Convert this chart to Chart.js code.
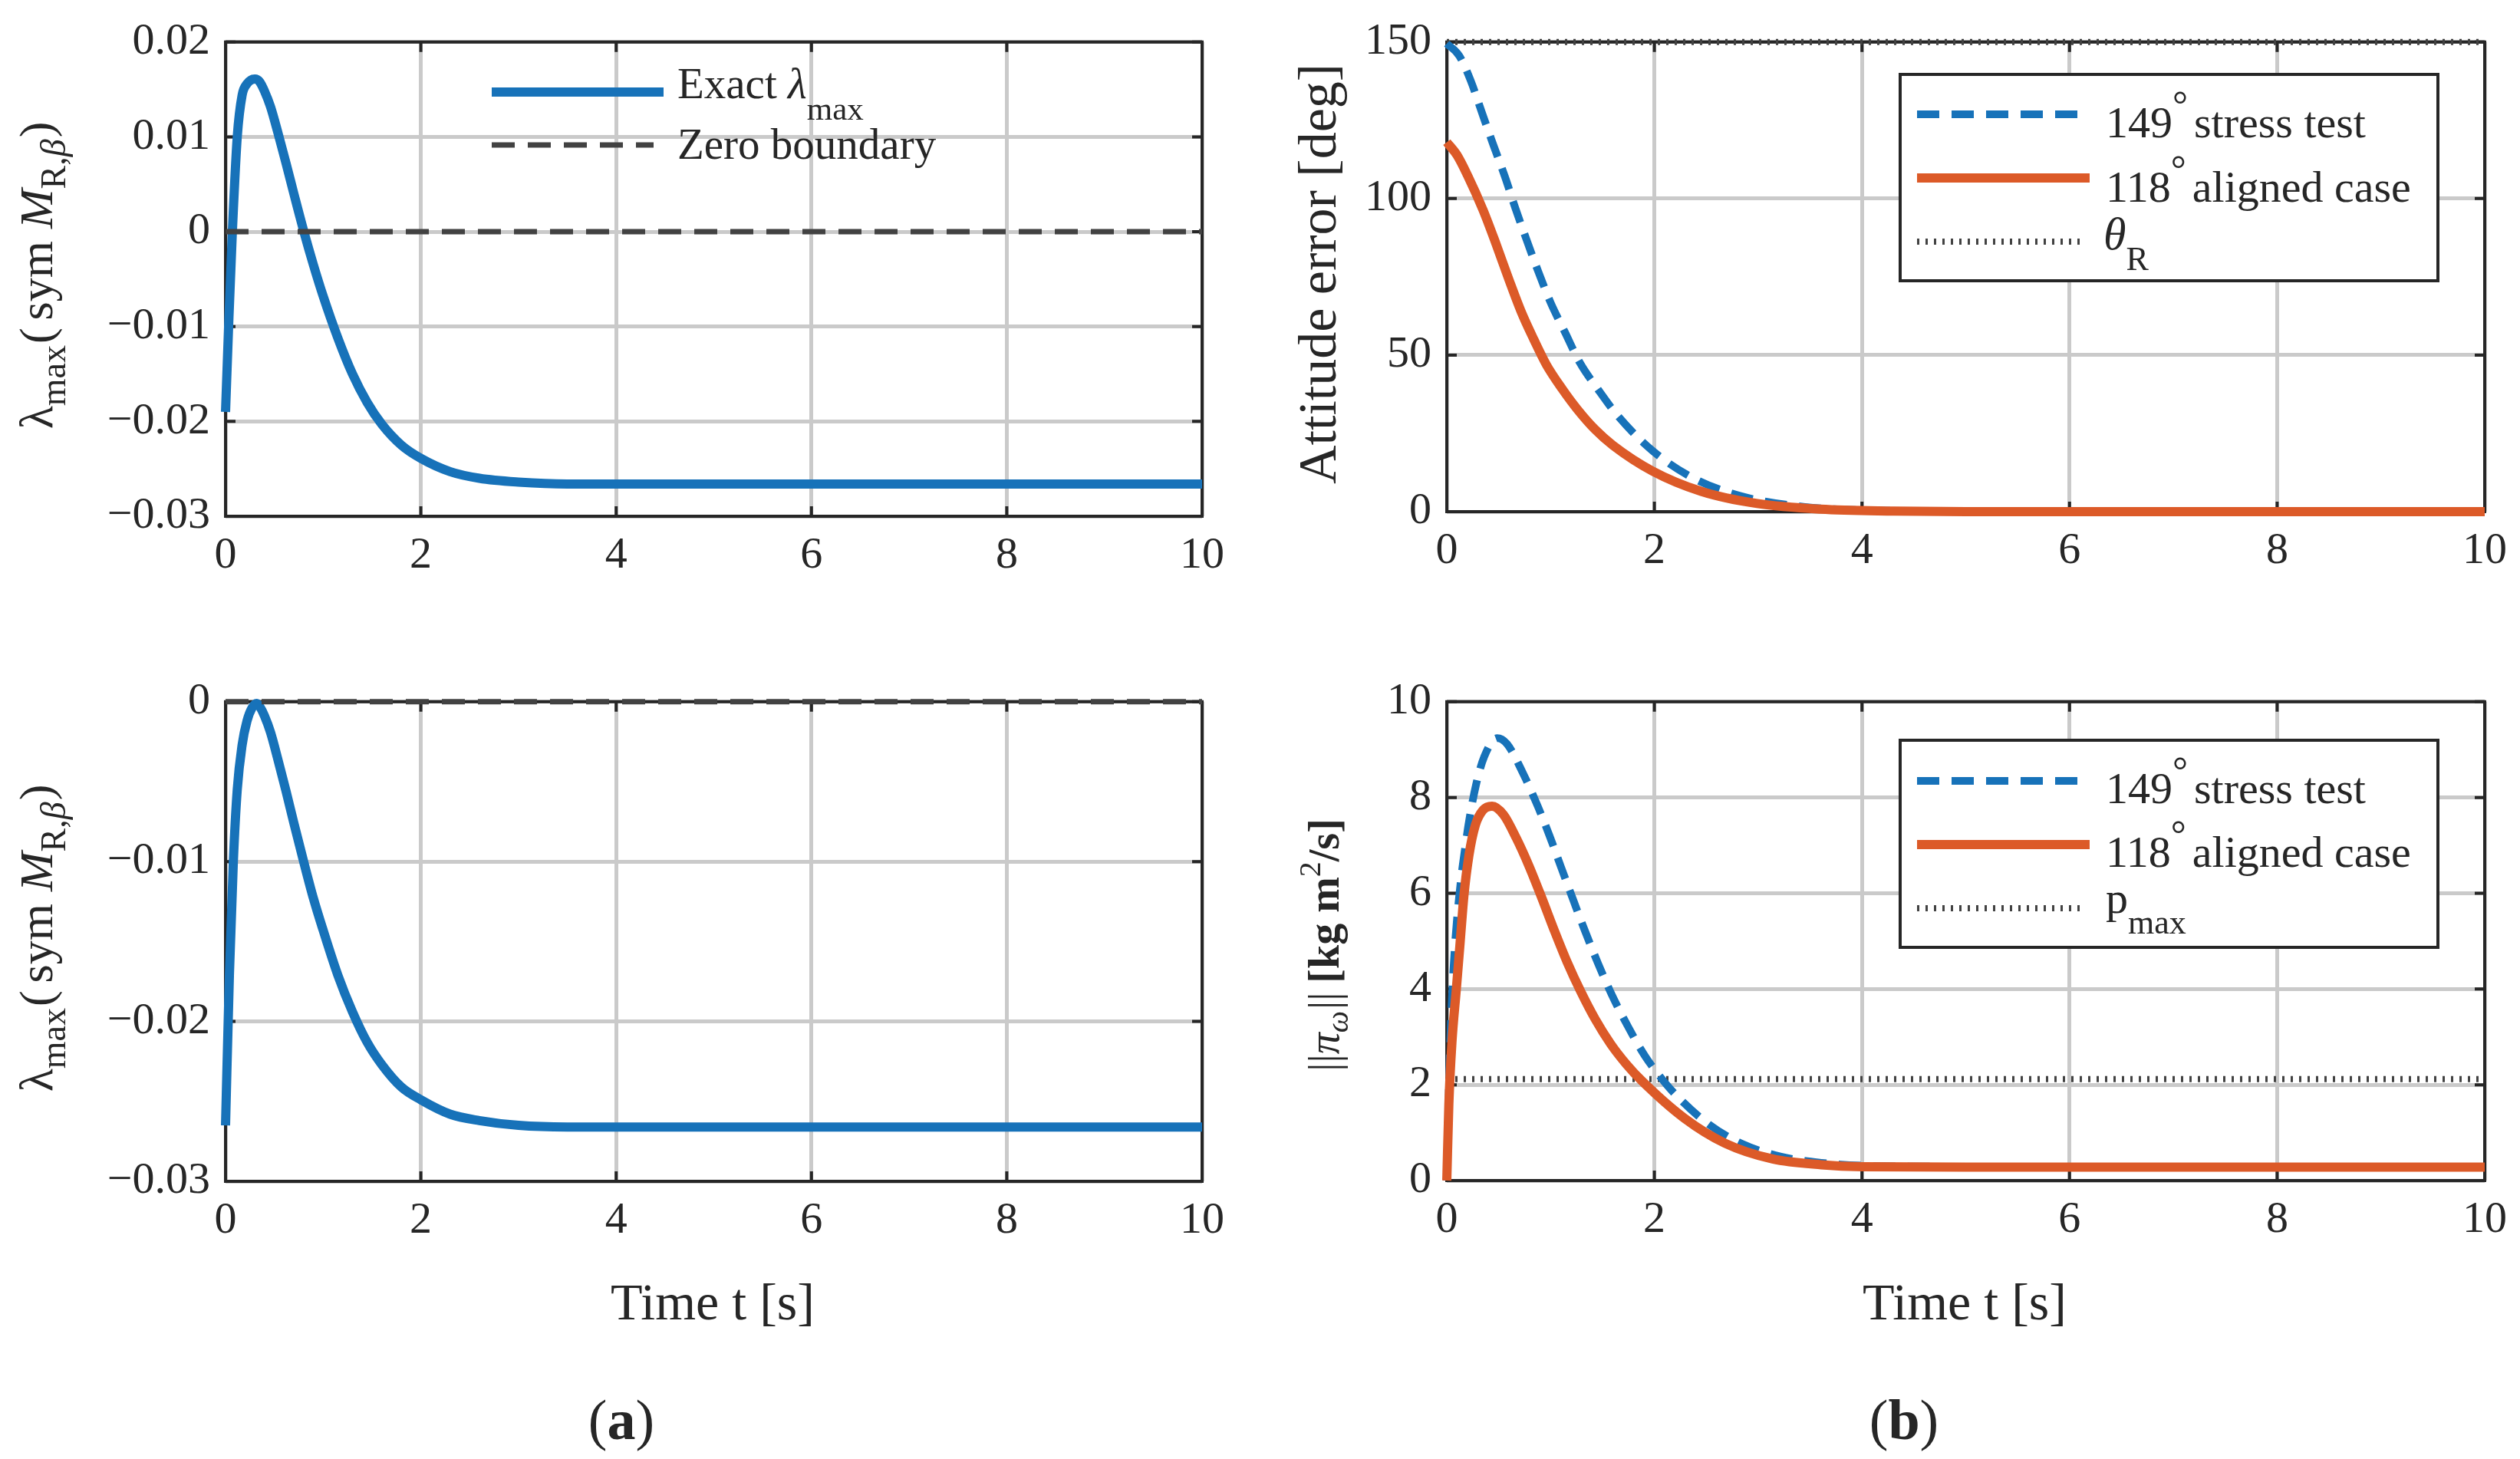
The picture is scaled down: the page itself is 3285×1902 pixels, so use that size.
<!DOCTYPE html>
<html>
<head>
<meta charset="utf-8">
<script src="https://cdn.jsdelivr.net/npm/chart.js@4.4.1/dist/chart.umd.min.js"></script>
<style>
html, body { margin: 0; padding: 0; background: #fff; }
#wrap { position: relative; width: 3285px; height: 1902px; overflow: hidden; }
#wrap canvas { position: absolute; }
</style>
</head>
<body>
<div id="wrap">
  <canvas id="tl" width="1642" height="860" style="left:0;top:0"></canvas>
  <canvas id="tr" width="1643" height="860" style="left:1642px;top:0"></canvas>
  <canvas id="bl" width="1642" height="1042" style="left:0;top:860px"></canvas>
  <canvas id="br" width="1643" height="1042" style="left:1642px;top:860px"></canvas>
</div>
<script>
// ---- data ----
const xTicks = [0, 2, 4, 6, 8, 10];

// (a) top: exact lambda_max
const tLamTop = [0, 0.035, 0.07, 0.12, 0.17, 0.22, 0.26, 0.30, 0.35, 0.40, 0.46, 0.54, 0.62, 0.70, 0.80, 0.9, 1.0, 1.15, 1.3, 1.45, 1.6, 1.8, 2.0, 2.3, 2.6, 3.0, 3.5, 4, 6, 8, 10];
const lamTop  = [-0.0190, -0.0090, 0.0000, 0.0100, 0.0144, 0.0156, 0.0160, 0.0161, 0.0158, 0.0148, 0.0132, 0.0103, 0.0072, 0.0040, 0.0001, -0.0035, -0.0068, -0.0112, -0.0150, -0.0180, -0.0203, -0.0225, -0.0239, -0.0253, -0.0260, -0.0264, -0.0266, -0.0266, -0.0266, -0.0266, -0.0266];
const yTicksTopA = [-0.03, -0.02, -0.01, 0, 0.01, 0.02];

// (a) bottom
const tLamBot = [0, 0.04, 0.08, 0.12, 0.17, 0.22, 0.27, 0.32, 0.35, 0.40, 0.46, 0.54, 0.62, 0.70, 0.80, 0.9, 1.0, 1.15, 1.3, 1.45, 1.6, 1.8, 2.0, 2.3, 2.6, 3.0, 3.5, 4, 6, 8, 10];
const lamBot  = [-0.0265, -0.0170, -0.0100, -0.0055, -0.0027, -0.0012, -0.0004, -0.0001, -0.0003, -0.0009, -0.0019, -0.0037, -0.0056, -0.0076, -0.0100, -0.0123, -0.0143, -0.0171, -0.0194, -0.0213, -0.0227, -0.0241, -0.0249, -0.0258, -0.0262, -0.0265, -0.0266, -0.0266, -0.0266, -0.0266, -0.0266];
const yTicksBotA = [-0.03, -0.02, -0.01, 0];

const zeroBoundary = 0;

// (b) top: attitude error [deg]
const tAtt149 = [0, 0.12, 0.23, 0.34, 0.45, 0.56, 0.66, 0.77, 0.88, 1.0, 1.14, 1.28, 1.46, 1.65, 1.98, 2.37, 2.83, 3.45, 4.0, 5, 6, 10];
const att149  = [149.5, 145.6, 137.7, 127.3, 117, 107, 97, 86.7, 76.8, 66.8, 57.2, 47.7, 38.9, 30.5, 19.5, 10.8, 5.0, 1.5, 0.5, 0.1, 0, 0];
const tAtt118 = [0, 0.1, 0.2, 0.35, 0.47, 0.6, 0.72, 0.84, 0.96, 1.11, 1.26, 1.43, 1.6, 1.98, 2.45, 2.99, 3.6, 4.3, 5, 10];
const att118  = [118, 113.8, 107.4, 96.3, 85.9, 74.0, 63.6, 54.9, 46.9, 39.3, 32.6, 26.2, 21.2, 13.0, 6.5, 2.6, 0.8, 0.2, 0, 0];
const thetaR = 150;
const yTicksAtt = [0, 50, 100, 150];

// (b) bottom: ||pi_omega|| [kg m^2/s]
const tPi149 = [0, 0.02, 0.04, 0.06, 0.08, 0.10, 0.14, 0.18, 0.21, 0.28, 0.36, 0.485, 0.58, 0.74, 0.88, 0.99, 1.10, 1.22, 1.33, 1.46, 1.59, 1.75, 1.91, 2.10, 2.22, 2.52, 2.83, 3.22, 3.61, 4.0, 5, 10];
const pi149  = [0, 1.9, 3.3, 4.25, 4.95, 5.5, 6.35, 7.0, 7.45, 8.25, 8.85, 9.24, 9.12, 8.48, 7.8, 7.2, 6.55, 5.85, 5.22, 4.52, 3.88, 3.2, 2.6, 2.05, 1.76, 1.18, 0.78, 0.5, 0.37, 0.31, 0.29, 0.29];
const tPi118 = [0, 0.02, 0.05, 0.09, 0.128, 0.165, 0.214, 0.276, 0.35, 0.436, 0.547, 0.67, 0.79, 0.916, 1.04, 1.16, 1.29, 1.43, 1.58, 1.73, 1.88, 2.29, 2.68, 3.14, 3.61, 4.0, 5, 10];
const pi118  = [0, 1.6, 2.9, 3.95, 4.96, 5.95, 6.8, 7.43, 7.74, 7.82, 7.64, 7.15, 6.58, 5.9, 5.2, 4.56, 3.95, 3.37, 2.85, 2.43, 2.08, 1.3, 0.78, 0.45, 0.33, 0.29, 0.28, 0.28];
const pMax = 2.12;
const yTicksPi = [0, 2, 4, 6, 8, 10];

// ---- styling ----
const SERIF = '"Liberation Serif", "Times New Roman", serif';
const INK = '#262626';
const BLUE = '#1772b9';
const ORANGE = '#dc5a28';
const DARK = '#424242';
const GRID = '#cacaca';

const pts = (ts, ys) => ts.map((t, i) => ({ x: t, y: ys[i] }));
const hline = v => [{ x: 0, y: v }, { x: 10, y: v }];

function fontOf(p) {
  return (p.it ? 'italic ' : '') + (p.b ? 'bold ' : '') + p.s + 'px ' + SERIF;
}

// draw a run of text pieces (sub/superscripts via dy), optionally rotated
function drawRich(ctx, parts, x, y, align, rot) {
  ctx.save();
  ctx.translate(x, y);
  if (rot) ctx.rotate(-Math.PI / 2);
  let w = 0;
  parts.forEach(p => {
    ctx.font = fontOf(p);
    p.w = ctx.measureText(p.t).width;
    w += p.w + (p.gap || 0);
  });
  let cx = align === 'center' ? -w / 2 : 0;
  ctx.fillStyle = INK;
  ctx.textAlign = 'left';
  ctx.textBaseline = 'alphabetic';
  parts.forEach(p => {
    ctx.font = fontOf(p);
    ctx.fillText(p.t, cx, p.dy || 0);
    cx += p.w + (p.gap || 0);
  });
  ctx.restore();
}

function legendLine(ctx, x1, x2, y, color, width, dash) {
  ctx.save();
  ctx.strokeStyle = color;
  ctx.lineWidth = width;
  ctx.setLineDash(dash || []);
  ctx.beginPath();
  ctx.moveTo(x1, y);
  ctx.lineTo(x2, y);
  ctx.stroke();
  ctx.restore();
}

function legendBox(ctx, x, y, w, h) {
  ctx.save();
  ctx.fillStyle = '#fff';
  ctx.fillRect(x, y, w, h);
  ctx.strokeStyle = INK;
  ctx.lineWidth = 4;
  ctx.strokeRect(x, y, w, h);
  ctx.restore();
}

// MATLAB-like box with inward ticks on all four sides
const frame = {
  id: 'frame',
  beforeDatasetsDraw(chart) {
    const { ctx, chartArea: a, scales } = chart;
    const tk = 13;
    ctx.save();
    ctx.strokeStyle = INK;
    ctx.lineWidth = 4;
    ctx.beginPath();
    scales.x.ticks.forEach(t => {
      const px = scales.x.getPixelForValue(t.value);
      ctx.moveTo(px, a.bottom); ctx.lineTo(px, a.bottom - tk);
      ctx.moveTo(px, a.top); ctx.lineTo(px, a.top + tk);
    });
    scales.y.ticks.forEach(t => {
      const py = scales.y.getPixelForValue(t.value);
      ctx.moveTo(a.left, py); ctx.lineTo(a.left + tk, py);
      ctx.moveTo(a.right, py); ctx.lineTo(a.right - tk, py);
    });
    ctx.stroke();
    ctx.strokeRect(a.left, a.top, a.right - a.left, a.bottom - a.top);
    ctx.restore();
  }
};

function fmtSigned(v, digits) {
  const r = Math.round(v * 1e6) / 1e6;
  if (r === 0) return '0';
  return (r < 0 ? '\u2212' : '') + Math.abs(r).toFixed(digits);
}

function makeChart(id, box, datasets, yCfg, drawText) {
  const tickFont = { family: SERIF, size: 58 };
  return new Chart(document.getElementById(id), {
    type: 'line',
    data: { datasets },
    options: {
      responsive: false,
      animation: false,
      devicePixelRatio: 1,
      layout: { padding: { top: box.top, right: box.right, left: 0, bottom: 0 } },
      plugins: { legend: { display: false }, tooltip: { enabled: false } },
      elements: { point: { radius: 0 }, line: { borderCapStyle: 'butt', borderJoinStyle: 'round' } },
      scales: {
        x: {
          type: 'linear', min: 0, max: 10,
          afterBuildTicks: s => { s.ticks = xTicks.map(v => ({ value: v })); },
          ticks: { font: tickFont, color: INK, padding: 17, maxRotation: 0, autoSkip: false },
          grid: { color: GRID, lineWidth: 5, drawTicks: false },
          border: { display: false },
          afterFit: s => { s.height = box.xh; }
        },
        y: {
          type: 'linear', min: yCfg.min, max: yCfg.max,
          afterBuildTicks: s => { s.ticks = yCfg.ticks.map(v => ({ value: v })); },
          ticks: { font: tickFont, color: INK, padding: 20, autoSkip: false, callback: yCfg.fmt },
          grid: { color: GRID, lineWidth: 5, drawTicks: false },
          border: { display: false },
          afterFit: s => { s.width = box.yw; }
        }
      }
    },
    plugins: [frame, { id: 'texts', afterDraw: c => drawText(c.ctx) }]
  });
}

const curve = (data, color, width, dash, order) => ({
  data, borderColor: color, borderWidth: width, borderDash: dash || [],
  cubicInterpolationMode: 'monotone', fill: false, clip: 12, order
});

const lamTitle = [
  { t: '\u03bb', s: 62 }, { t: 'max', s: 46, dy: 17, gap: 2 },
  { t: '(', s: 62, gap: 10 }, { t: 'sym', s: 62, gap: 16 },
  { t: 'M', s: 62, it: true }, { t: 'R,', s: 46, dy: 17 }, { t: '\u03b2', s: 46, dy: 17, it: true, gap: 2 },
  { t: ')', s: 62 }
];
const timeTitle = [{ t: 'Time t [s]', s: 68 }];
const ZERO_DASH = [30, 17];
const BLUE_DASH = [29, 16];
const DOTS = [3, 8];

// (a) top
makeChart('tl', { top: 47, right: 75, yw: 294, xh: 187 }, [
  curve(pts(tLamTop, lamTop), BLUE, 12, null, 1),
  curve(hline(zeroBoundary), DARK, 7, ZERO_DASH, 0)
], { min: -0.03, max: 0.02, ticks: yTicksTopA, fmt: v => fmtSigned(v, 2) }, ctx => {
  drawRich(ctx, lamTitle, 68, 359, 'center', true);
  legendLine(ctx, 641, 865, 120, BLUE, 12);
  drawRich(ctx, [{ t: 'Exact ', s: 57 }, { t: '\u03bb', s: 57, it: true }, { t: 'max', s: 43, dy: 28 }], 883, 128, 'left');
  legendLine(ctx, 641, 852, 189, DARK, 7, ZERO_DASH);
  drawRich(ctx, [{ t: 'Zero boundary', s: 57 }], 883, 207, 'left');
});

// (b) top
makeChart('tr', { top: 38, right: 43, yw: 244, xh: 193 }, [
  curve(pts(tAtt149, att149), BLUE, 10, BLUE_DASH, 1),
  curve(pts(tAtt118, att118), ORANGE, 12, null, 0),
  curve(hline(thetaR), DARK, 8, DOTS, 2)
], { min: 0, max: 150, ticks: yTicksAtt, fmt: v => String(v) }, ctx => {
  const ox = 1642;
  drawRich(ctx, [{ t: 'Attitude error [deg]', s: 70 }], 1741 - ox, 357, 'center', true);
  legendBox(ctx, 2477 - ox, 97, 701, 269);
  legendLine(ctx, 2499 - ox, 2708 - ox, 149, BLUE, 10, BLUE_DASH);
  drawRich(ctx, [{ t: '149', s: 58 }, { t: '\u00b0', s: 50, dy: -26, gap: 8 }, { t: 'stress test', s: 58 }], 2745 - ox, 179, 'left');
  legendLine(ctx, 2499 - ox, 2724 - ox, 232, ORANGE, 12);
  drawRich(ctx, [{ t: '118', s: 58 }, { t: '\u00b0', s: 50, dy: -26, gap: 8 }, { t: 'aligned case', s: 58 }], 2745 - ox, 263, 'left');
  legendLine(ctx, 2499 - ox, 2716 - ox, 315, DARK, 8, DOTS);
  drawRich(ctx, [{ t: '\u03b8', s: 60, it: true }, { t: 'R', s: 44, dy: 27 }], 2742 - ox, 325, 'left');
});

// (a) bottom
makeChart('bl', { top: 47, right: 75, yw: 294, xh: 362 }, [
  curve(pts(tLamBot, lamBot), BLUE, 12, null, 1),
  curve(hline(zeroBoundary), DARK, 7, ZERO_DASH, 0)
], { min: -0.03, max: 0, ticks: yTicksBotA, fmt: v => fmtSigned(v, 2) }, ctx => {
  const oy = 860;
  drawRich(ctx, lamTitle, 68, 1223 - oy, 'center', true);
  drawRich(ctx, timeTitle, 929, 1720 - oy, 'center');
  drawRich(ctx, [{ t: '(', s: 74 }, { t: 'a', s: 74, b: true }, { t: ')', s: 74 }], 810, 1876 - oy, 'center');
});

// (b) bottom
makeChart('br', { top: 43, right: 43, yw: 244, xh: 363 }, [
  curve(pts(tPi149, pi149), BLUE, 10, BLUE_DASH, 1),
  curve(pts(tPi118, pi118), ORANGE, 12, null, 0),
  curve(hline(pMax), DARK, 8, DOTS, 2)
], { min: 0, max: 10, ticks: yTicksPi, fmt: v => String(v) }, ctx => {
  const ox = 1642, oy = 860;
  drawRich(ctx, [
    { t: '||', s: 56 }, { t: '\u03c0', s: 56, it: true }, { t: '\u03c9', s: 40, dy: 12, it: true, gap: 2 },
    { t: '||', s: 56, gap: 12 }, { t: '[kg m', s: 56, b: true }, { t: '2', s: 40, dy: -24 }, { t: '/s]', s: 56, b: true }
  ], 1745 - ox, 1232 - oy, 'center', true);
  drawRich(ctx, timeTitle, 2561 - ox, 1720 - oy, 'center');
  drawRich(ctx, [{ t: '(', s: 74 }, { t: 'b', s: 74, b: true }, { t: ')', s: 74 }], 2482 - ox, 1876 - oy, 'center');
  legendBox(ctx, 2477 - ox, 965 - oy, 701, 270);
  legendLine(ctx, 2499 - ox, 2708 - ox, 1018 - oy, BLUE, 10, BLUE_DASH);
  drawRich(ctx, [{ t: '149', s: 58 }, { t: '\u00b0', s: 50, dy: -26, gap: 8 }, { t: 'stress test', s: 58 }], 2745 - ox, 1047 - oy, 'left');
  legendLine(ctx, 2499 - ox, 2724 - ox, 1101 - oy, ORANGE, 12);
  drawRich(ctx, [{ t: '118', s: 58 }, { t: '\u00b0', s: 50, dy: -26, gap: 8 }, { t: 'aligned case', s: 58 }], 2745 - ox, 1130 - oy, 'left');
  legendLine(ctx, 2499 - ox, 2716 - ox, 1184 - oy, DARK, 8, DOTS);
  drawRich(ctx, [{ t: 'p', s: 58 }, { t: 'max', s: 44, dy: 27 }], 2745 - ox, 1190 - oy, 'left');
});
</script>
</body>
</html>
